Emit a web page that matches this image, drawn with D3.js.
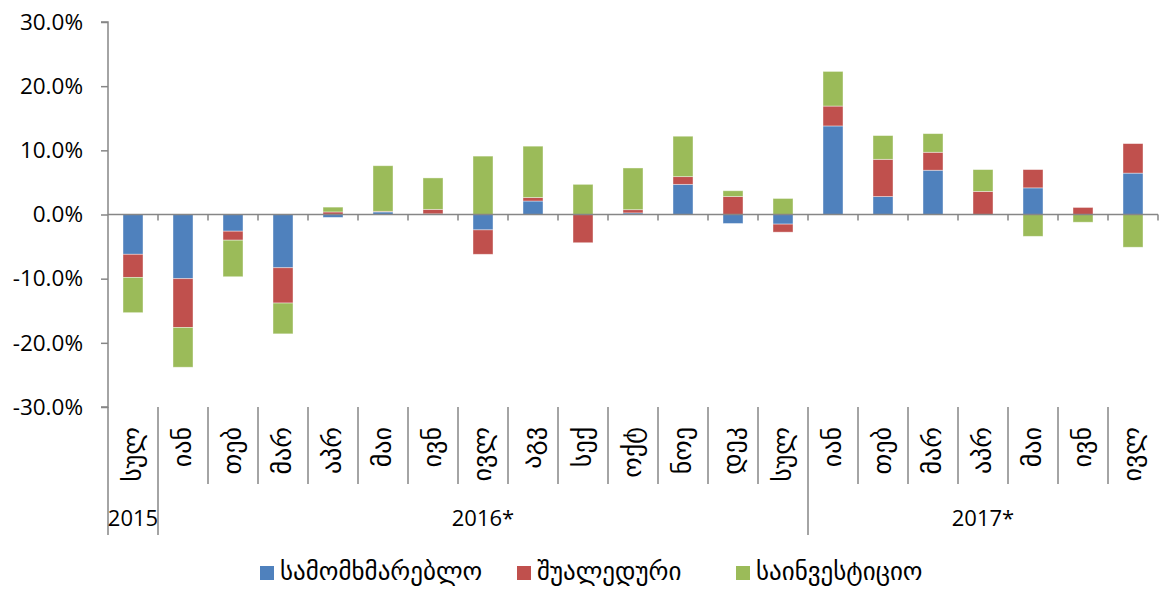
<!DOCTYPE html>
<html><head><meta charset="utf-8">
<script src="https://cdn.jsdelivr.net/npm/d3@7"></script>
<style>
html,body{margin:0;padding:0;background:#fff;}
svg{display:block;}
</style></head>
<body>
<svg id="chart" width="1160" height="592"></svg>
<script>
const categories = ["სულ","იან","თებ","მარ","აპრ","მაი","ივნ","ივლ","აგვ","სექ","ოქტ","ნოე","დეკ","სულ","იან","თებ","მარ","აპრ","მაი","ივნ","ივლ"];
const yearLabels = ["2015","2016*","2017*"];
const yearSpans = [1,13,7];
const seriesNames = ["სამომხმარებლო","შუალედური","საინვესტიციო"];
const consumer     = [-6.2,-10.0,-2.6,-8.3,-0.45,0.4,0.1,-2.4,2.1,0,0.25,4.7,-1.4,-1.5,13.8,2.8,6.9,0,4.15,0,6.45];
const intermediate = [-3.6,-7.6,-1.4,-5.5,0.4,0.1,0.7,-3.8,0.55,-4.4,0.5,1.2,2.8,-1.25,3.1,5.8,2.8,3.6,2.85,1.1,4.6];
const investment   = [-5.5,-6.2,-5.7,-4.8,0.75,7.1,4.9,9.1,8.0,4.7,6.5,6.3,0.9,2.5,5.4,3.7,2.9,3.4,-3.4,-1.2,-5.1];
const yTicks = [-0.3,-0.2,-0.1,0,0.1,0.2,0.3];
const colors = ["#4F81BD","#C0504D","#9BBB59"];

const svg = d3.select("#chart");
const X0 = 108, X1 = 1158, YT = 22, YB = 407;
const axisColor = "#868686";
const numFont = "'Open Sans', sans-serif";
const geoFont = "'DejaVu Sans', sans-serif";

const idx = categories.map((d,i)=>i);
const x = d3.scaleBand().domain(idx).range([X0,X1]).paddingInner(0.6).paddingOuter(0.3);
const y = d3.scaleLinear().domain([-0.3,0.3]).range([YB,YT]);

const rows = idx.map(i => ({i, s0: consumer[i]/100, s1: intermediate[i]/100, s2: investment[i]/100}));
const stack = d3.stack().keys(["s0","s1","s2"]).offset(d3.stackOffsetDiverging);
const stacked = stack(rows);

const loc = d3.formatLocale({decimal:".", thousands:",", grouping:[3], currency:["$",""], minus:"-"});
const fmt = loc.format(".1%");

// bars
svg.append("g").selectAll("g").data(stacked).join("g")
  .attr("fill",(d,k)=>colors[k])
  .selectAll("rect").data(d=>d).join("rect")
  .attr("x",d=>x(d.data.i))
  .attr("width",x.bandwidth())
  .attr("y",d=>y(Math.max(d[0],d[1])))
  .attr("height",d=>Math.abs(y(d[0])-y(d[1])))
  .attr("stroke","#ffffff").attr("stroke-opacity",0.5).attr("stroke-width",0.8);

// y axis
const yAxis = svg.append("g").attr("transform",`translate(${X0},0)`)
  .call(d3.axisLeft(y).tickValues(yTicks).tickFormat(fmt).tickSize(7).tickPadding(18));
yAxis.select(".domain").attr("stroke",axisColor).attr("stroke-width",1.5).attr("d",`M-7,${YT}H0V${YB}H-7`);
yAxis.selectAll(".tick line").attr("stroke",axisColor).attr("stroke-width",1.5);
yAxis.selectAll(".tick text").attr("font-family",numFont).attr("font-size",22.5).attr("fill","#000");

// zero axis with ticks at category boundaries
const bounds = d3.range(categories.length+1).map(k => X0 + k*x.step());
const zg = svg.append("g");
zg.append("line").attr("x1",X0).attr("x2",X1).attr("y1",y(0)).attr("y2",y(0))
  .attr("stroke",axisColor).attr("stroke-width",1.5);
zg.selectAll("line.t").data(bounds.slice(1)).join("line").attr("class","t")
  .attr("x1",d=>d).attr("x2",d=>d).attr("y1",y(0)).attr("y2",y(0)+6)
  .attr("stroke",axisColor).attr("stroke-width",1.5);

// category separators
const groupStarts = [0];
yearSpans.forEach((s,k)=>groupStarts.push(groupStarts[k]+s));
const sep = svg.append("g");
sep.selectAll("line").data(bounds.slice(0,categories.length)).join("line")
  .attr("x1",d=>d).attr("x2",d=>d).attr("y1",YB)
  .attr("y2",(d,k)=> groupStarts.includes(k) ? 535 : 484)
  .attr("stroke",axisColor).attr("stroke-width",1.5);

// month labels
svg.append("g").selectAll("text").data(categories).join("text")
  .attr("transform",(d,i)=>`translate(${x(i)+x.bandwidth()/2},427) rotate(-90)`)
  .attr("text-anchor","end").attr("dy","0.3em")
  .attr("font-family",geoFont).attr("font-size",26).attr("fill","#000")
  .text(d=>d);

// year labels
svg.append("g").selectAll("text").data(yearLabels).join("text")
  .attr("x",(d,k)=> (bounds[groupStarts[k]] + Math.min(bounds[groupStarts[k+1]],X1))/2)
  .attr("y",526).attr("text-anchor","middle")
  .attr("font-family",numFont).attr("font-size",22).attr("fill","#000")
  .text(d=>d);

// legend
const legX = [260, 517, 736];
const leg = svg.append("g").selectAll("g").data(seriesNames).join("g")
  .attr("transform",(d,k)=>`translate(${legX[k]},0)`);
leg.append("rect").attr("x",0).attr("y",566).attr("width",14).attr("height",14).attr("fill",(d,k)=>colors[k]);
leg.append("text").attr("x",20).attr("y",580).attr("font-family",geoFont).attr("font-size",25).attr("fill","#000").text(d=>d);
</script>
</body></html>
